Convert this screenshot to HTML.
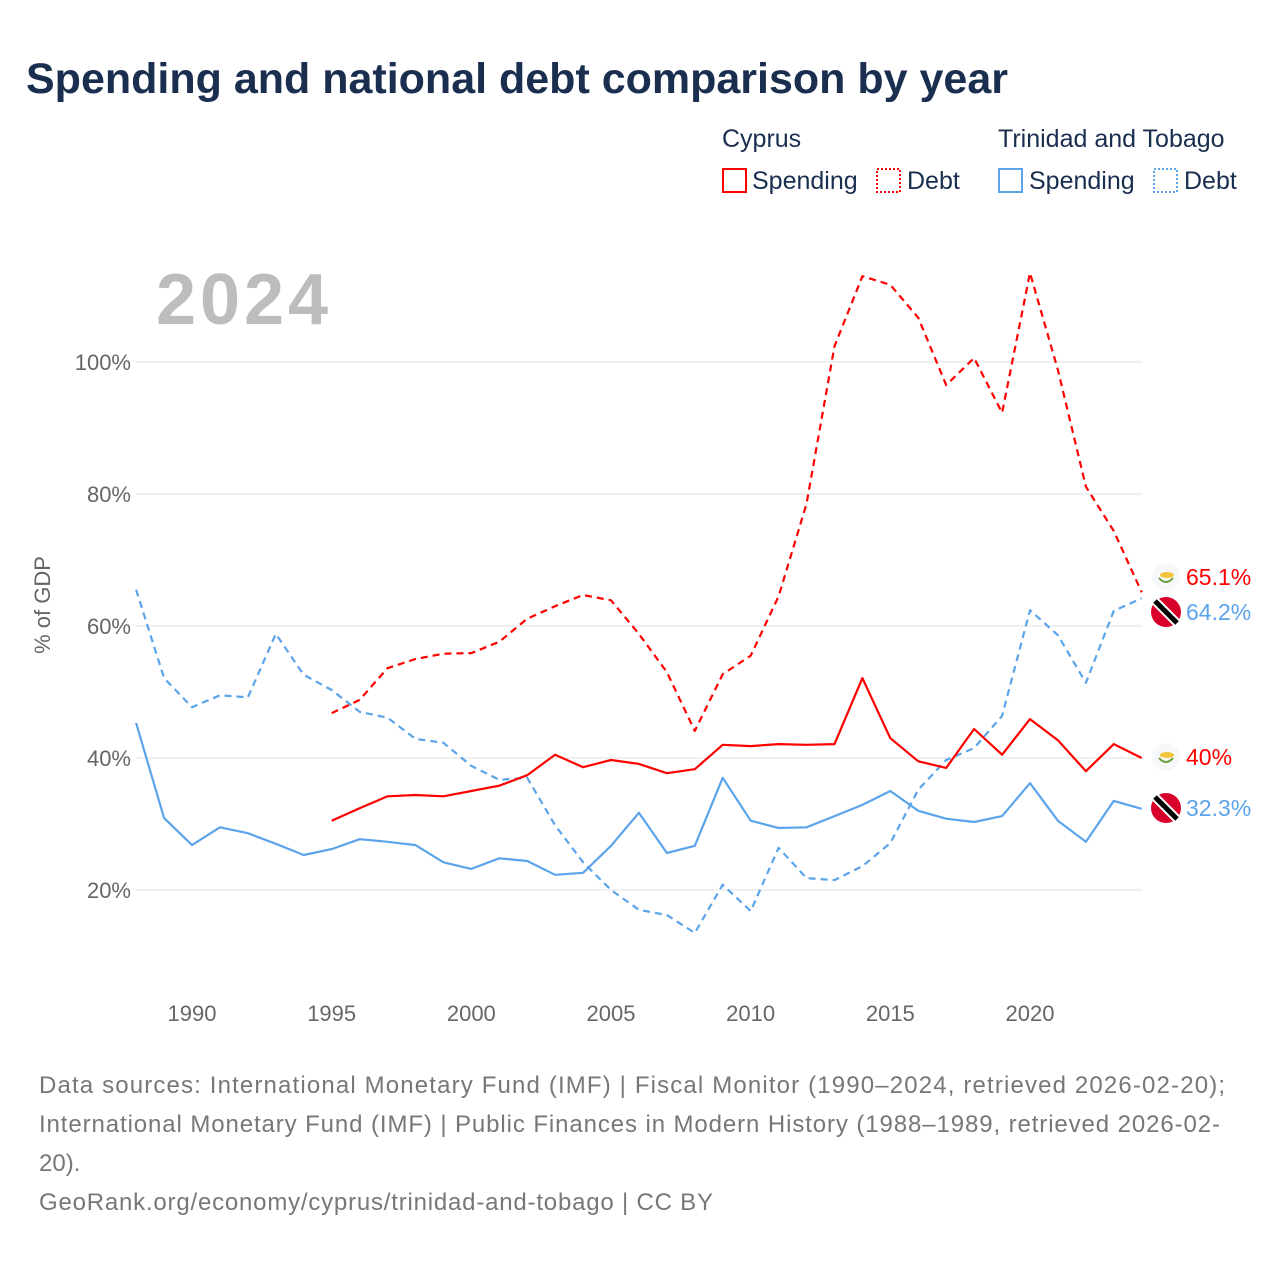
<!DOCTYPE html>
<html><head><meta charset="utf-8"><style>
body{margin:0;background:#fff;font-family:"Liberation Sans",sans-serif}
</style></head><body>
<svg width="1280" height="1280" xmlns="http://www.w3.org/2000/svg" font-family="Liberation Sans, sans-serif">
<rect width="1280" height="1280" fill="#fff"/>
<text x="26" y="93" font-size="43" font-weight="bold" fill="#1a2e4f">Spending and national debt comparison by year</text>
<g font-size="25" fill="#1a2e4f">
<text x="722" y="147">Cyprus</text>
<text x="998" y="147">Trinidad and Tobago</text>
<g><rect x="723" y="169" width="23" height="23" fill="none" stroke="#f00" stroke-width="2"/><text x="752" y="189">Spending</text></g>
<g><rect x="877" y="169" width="23" height="23" fill="none" stroke="#f00" stroke-width="2" stroke-dasharray="2 2"/><text x="907" y="189">Debt</text></g>
<g><rect x="999" y="169" width="23" height="23" fill="none" stroke="#5ba4ea" stroke-width="2"/><text x="1029" y="189">Spending</text></g>
<g><rect x="1154" y="169" width="23" height="23" fill="none" stroke="#5ba4ea" stroke-width="2" stroke-dasharray="2 2"/><text x="1184" y="189">Debt</text></g>
</g>
<text x="156" y="324" font-size="72" font-weight="bold" fill="#bdbdbd" textLength="172">2024</text>
<text transform="translate(50,605) rotate(-90)" text-anchor="middle" font-size="22" fill="#666">% of GDP</text>
<g id="grid"></g><g id="lines"></g><g id="ends"></g>
<g font-size="24" fill="#777">
<text x="39" y="1093" textLength="1186">Data sources: International Monetary Fund (IMF) | Fiscal Monitor (1990–2024, retrieved 2026-02-20);</text>
<text x="39" y="1132" textLength="1181">International Monetary Fund (IMF) | Public Finances in Modern History (1988–1989, retrieved 2026-02-</text>
<text x="39" y="1171">20).</text>
<text x="39" y="1210" textLength="674">GeoRank.org/economy/cyprus/trinidad-and-tobago | CC BY</text>
</g>
</svg>
<script>
const yTicks=[20,40,60,80,100];
const xTicks=[1990,1995,2000,2005,2010,2015,2020];
const ttYears0=1988, cyYears0=1995;
const ttDebt=[65.5,52.1,47.7,49.5,49.2,58.8,52.6,50.3,47,46.1,42.9,42.3,38.8,36.7,37,29.8,24.2,20,17,16.2,13.5,20.8,16.8,26.4,21.8,21.5,23.6,27.1,35.2,39.7,41.5,46.4,62.4,58.6,51.4,62.3,64.2];
const ttSpend=[45.3,30.9,26.8,29.5,28.6,27,25.3,26.2,27.7,27.3,26.8,24.2,23.2,24.8,24.4,22.3,22.6,26.7,31.7,25.6,26.7,37,30.5,29.4,29.5,31.2,32.9,35,32,30.8,30.3,31.2,36.2,30.5,27.3,33.5,32.3];
const cySpend=[30.5,32.4,34.2,34.4,34.2,35,35.8,37.4,40.5,38.6,39.7,39.1,37.7,38.3,42,41.8,42.1,42,42.1,52.1,43,39.5,38.5,44.4,40.5,45.9,42.7,38,42.1,40];
const cyDebt=[46.8,48.8,53.6,55,55.8,55.9,57.6,61.1,63,64.7,63.9,58.8,53,44.1,52.7,55.5,64.5,78.5,102.4,113,111.7,106.7,96.5,100.6,92.3,113.5,98.8,81.1,74.4,65.1];
const X=yr=>192+(yr-1990)*27.933;
const Y=v=>362+(100-v)*6.6;
const NS="http://www.w3.org/2000/svg";
function mk(t,a,p){const e=document.createElementNS(NS,t);for(const k in a)e.setAttribute(k,a[k]);p.appendChild(e);return e;}
const grid=document.getElementById('grid');
yTicks.forEach(v=>{
 const l=mk('line',{x1:136,x2:1142,y1:Y(v),y2:Y(v),stroke:'#ebebeb','stroke-width':1.5},grid);
 
 
 const t=mk('text',{x:131,y:Y(v)+8,'text-anchor':'end','font-size':22,fill:'#666'},grid);t.textContent=v+'%';
 
 
});
xTicks.forEach(yr=>{
 const t=mk('text',{x:X(yr),y:1021,'text-anchor':'middle','font-size':22,fill:'#666'},grid);t.textContent=yr;
 
 
});
const lines=document.getElementById('lines');
function series(arr,y0,color,dash,name){
 const d=arr.map((v,i)=>(i?'L':'M')+X(y0+i).toFixed(1)+','+Y(v).toFixed(1)).join('');
 const p=mk('path',{d:d,fill:'none',stroke:color,'stroke-width':2.2,'stroke-dasharray':dash||'none','stroke-linejoin':'round'},lines);
 
 
}
series(ttSpend,ttYears0,'#5ba4ea',null,'tt-spending-line');
series(ttDebt,ttYears0,'#5ba4ea','7 5','tt-debt-line');
series(cySpend,cyYears0,'#f00',null,'cyprus-spending-line');
series(cyDebt,cyYears0,'#f00','7 5','cyprus-debt-line');
const ends=document.getElementById('ends');
function endLabel(v,ly,color,flag,name){
 const g=mk('g',{},ends);
 
 
 if(flag==='cy'){mk('circle',{cx:1166,cy:ly,r:14,fill:'#f6f8fa'},g);mk('ellipse',{cx:1167,cy:ly-2,rx:7,ry:3,fill:'#f4c33c'},g);mk('path',{d:`M1159,${ly+1} Q1166,${ly+9} 1173,${ly+1}`,fill:'none',stroke:'#6a9e3a','stroke-width':2},g);}
 else{mk('circle',{cx:1166,cy:ly,r:15,fill:'#d8002a'},g);mk('line',{x1:1155,y1:ly-11,x2:1177,y2:ly+11,stroke:'#fff','stroke-width':9},g);mk('line',{x1:1155,y1:ly-11,x2:1177,y2:ly+11,stroke:'#000','stroke-width':5},g);}
 const t=mk('text',{x:1186,y:ly+8,'font-size':23,fill:color},g);t.textContent=v;
}
endLabel(cyDebt[cyDebt.length-1]+'%',577,'#f00','cy','end-label-cyprus-debt');
endLabel(ttDebt[ttDebt.length-1]+'%',612,'#5ba4ea','tt','end-label-tt-debt');
endLabel(cySpend[cySpend.length-1]+'%',757,'#f00','cy','end-label-cyprus-spending');
endLabel(ttSpend[ttSpend.length-1]+'%',808,'#5ba4ea','tt','end-label-tt-spending');
</script>
</body></html>
